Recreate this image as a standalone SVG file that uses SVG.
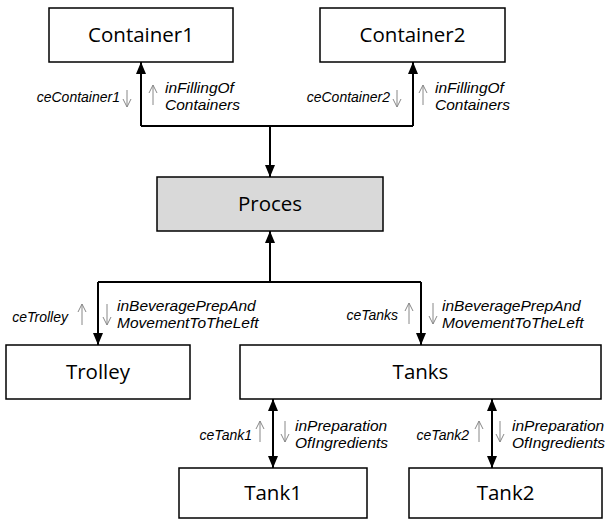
<svg xmlns="http://www.w3.org/2000/svg" width="606" height="522" viewBox="0 0 606 522">
<style>
.box{fill:#fff;stroke:#000;stroke-width:1.5}
.gray{fill:#d9d9d9}
.nt{font-family:"Open Sans","Liberation Sans",sans-serif;font-size:20.5px;text-anchor:middle;fill:#000}
.ce{font-family:"Liberation Sans",Arial,sans-serif;font-style:italic;font-size:14px;text-anchor:end;fill:#000}
.in{font-family:"Liberation Sans",Arial,sans-serif;font-style:italic;font-size:15.5px;fill:#000}
.ln{fill:none;stroke:#000;stroke-width:2}
.sa{fill:none;stroke:#888;stroke-width:1}
</style>
<defs>
<marker id="ah" viewBox="0 0 12 10" refX="12" refY="5" markerWidth="12" markerHeight="10" markerUnits="userSpaceOnUse" orient="auto-start-reverse">
<path d="M0,0 L12,5 L0,10 Z" fill="#000"/>
</marker>
</defs>
<rect width="606" height="522" fill="#fff"/>
<g id="connectors">
<path class="ln" d="M141,126 V62" marker-end="url(#ah)"/>
<path class="ln" d="M413,126 V62" marker-end="url(#ah)"/>
<path class="ln" d="M141,126 H413"/>
<path class="ln" d="M270,126 V177" marker-end="url(#ah)"/>
<path class="ln" d="M270,282 V231" marker-end="url(#ah)"/>
<path class="ln" d="M98,282 H421"/>
<path class="ln" d="M98,282 V345" marker-end="url(#ah)"/>
<path class="ln" d="M421,282 V345" marker-end="url(#ah)"/>
<path class="ln" d="M273,399 V468" marker-start="url(#ah)" marker-end="url(#ah)"/>
<path class="ln" d="M492,399 V468" marker-start="url(#ah)" marker-end="url(#ah)"/>
</g>
<g id="labels">
<text class="ce" x="120" y="102">ceContainer1</text>
<path class="sa" d="M127,90 V107 M123,99 L127,107 L131,99"/>
<path class="sa" d="M153,85 V105 M149,93 L153,85 L157,93"/>
<text class="in" x="165" y="93">inFillingOf</text>
<text class="in" x="165" y="110">Containers</text>

<text class="ce" x="390" y="102">ceContainer2</text>
<path class="sa" d="M397,90 V107 M393,99 L397,107 L401,99"/>
<path class="sa" d="M423,85 V105 M419,93 L423,85 L427,93"/>
<text class="in" x="435" y="93">inFillingOf</text>
<text class="in" x="435" y="110">Containers</text>

<text class="ce" x="68" y="322">ceTrolley</text>
<path class="sa" d="M82,304 V325 M78,312 L82,304 L86,312"/>
<path class="sa" d="M107,304 V325 M103,317 L107,325 L111,317"/>
<text class="in" x="117" y="311">inBeveragePrepAnd</text>
<text class="in" x="117" y="328">MovementToTheLeft</text>

<text class="ce" x="398" y="320">ceTanks</text>
<path class="sa" d="M409,303 V324 M405,311 L409,303 L413,311"/>
<path class="sa" d="M433,303 V324 M429,316 L433,324 L437,316"/>
<text class="in" x="442" y="311">inBeveragePrepAnd</text>
<text class="in" x="442" y="328">MovementToTheLeft</text>

<text class="ce" x="252" y="440">ceTank1</text>
<path class="sa" d="M260,421 V442 M256,429 L260,421 L264,429"/>
<path class="sa" d="M285,421 V442 M281,434 L285,442 L289,434"/>
<text class="in" x="295" y="431">inPreparation</text>
<text class="in" x="295" y="448">OfIngredients</text>

<text class="ce" x="469" y="440">ceTank2</text>
<path class="sa" d="M479,421 V442 M475,429 L479,421 L483,429"/>
<path class="sa" d="M500,421 V442 M496,434 L500,442 L504,434"/>
<text class="in" x="512" y="431">inPreparation</text>
<text class="in" x="512" y="448">OfIngredients</text>
</g>
<g id="Container1"><rect class="box" x="49" y="8" width="184" height="54"/><text class="nt" x="141" y="42">Container1</text></g>
<g id="Container2"><rect class="box" x="320" y="8" width="185" height="54"/><text class="nt" x="412.5" y="42">Container2</text></g>
<g id="Proces"><rect class="box gray" x="157" y="177" width="226" height="54"/><text class="nt" x="270" y="211">Proces</text></g>
<g id="Trolley"><rect class="box" x="6" y="345" width="184" height="54"/><text class="nt" x="98" y="379">Trolley</text></g>
<g id="Tanks"><rect class="box" x="240" y="345" width="361" height="54"/><text class="nt" x="420.5" y="379">Tanks</text></g>
<g id="Tank1"><rect class="box" x="179" y="468" width="188" height="50"/><text class="nt" x="273" y="500">Tank1</text></g>
<g id="Tank2"><rect class="box" x="409" y="468" width="193" height="50"/><text class="nt" x="505.5" y="500">Tank2</text></g>
</svg>
